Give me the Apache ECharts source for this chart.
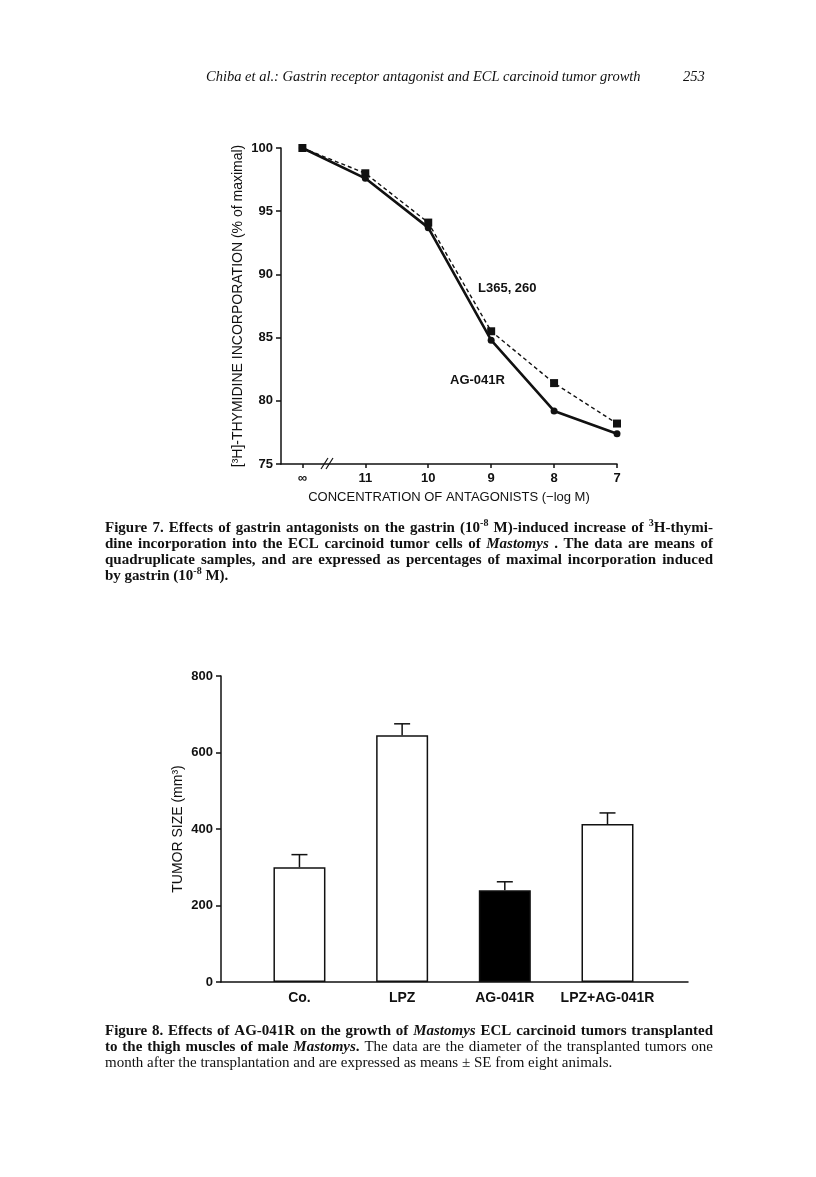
<!DOCTYPE html>
<html>
<head>
<meta charset="utf-8">
<script src="https://cdn.jsdelivr.net/npm/echarts@6/dist/echarts.min.js"></script>
<style>
html,body{margin:0;padding:0;background:#fff;}
#main{width:816px;height:1177px;}
</style>
</head>
<body>
<div id="main"></div>
<script>
// ---------- Figure 7 data ----------
const fig7Categories = ['\u221E', '11', '10', '9', '8', '7'];
const fig7Positions = [0, 1, 2, 3, 4, 5];
const ag041r = [100, 97.6, 93.7, 84.8, 79.2, 77.4];
const l365260 = [100, 98.0, 94.1, 85.5, 81.4, 78.2];
const fig7YTicks = [75, 80, 85, 90, 95, 100];

// ---------- Figure 8 data ----------
const fig8Categories = ['Co.', 'LPZ', 'AG-041R', 'LPZ+AG-041R'];
const fig8Positions = [0, 1, 2, 3];
const tumorSize = [300, 645, 240, 413];
const tumorSE = [33, 30, 22, 29];
const fig8YTicks = [0, 200, 400, 600, 800];

const SANS = '"Liberation Sans", Arial, sans-serif';
const SERIF = '"Liberation Serif", "Times New Roman", serif';
const INK = '#111';

const chart = echarts.init(document.getElementById('main'), null, {renderer: 'canvas'});

// ---------- justified caption helper ----------
const FONTS = {
  b: 'bold 15px ' + SERIF,
  bi: 'italic bold 15px ' + SERIF,
  r: '15px ' + SERIF,
  i: 'italic 15px ' + SERIF,
  sup: 'bold 10px ' + SERIF
};
const mctx = document.createElement('canvas').getContext('2d');
function measure(t, f) { mctx.font = FONTS[f]; return mctx.measureText(t).width; }
function captionLine(pieces, x0, width, y, justify) {
  const words = [];
  let cur = [];
  pieces.forEach(([txt, f]) => {
    const parts = txt.split(' ');
    parts.forEach((p, idx) => {
      if (idx > 0) { if (cur.length) words.push(cur); cur = []; }
      if (p.length) cur.push([p, f]);
    });
  });
  if (cur.length) words.push(cur);
  const ww = words.map(w => w.reduce((s, [t, f]) => s + measure(t, f), 0));
  const total = ww.reduce((a, b) => a + b, 0);
  const gap = justify && words.length > 1 ? (width - total) / (words.length - 1) : measure(' ', 'b');
  const els = [];
  let x = x0;
  words.forEach((w, wi) => {
    let px = x;
    w.forEach(([t, f]) => {
      els.push({
        type: 'text', x: px, y: f === 'sup' ? y - 5 : y,
        style: {text: t, font: FONTS[f], fill: INK, textVerticalAlign: 'middle', textAlign: 'left'}
      });
      px += measure(t, f);
    });
    x += ww[wi] + gap;
  });
  return els;
}

const graphics = [];
// header
graphics.push({type: 'text', x: 206, y: 77, style: {text: 'Chiba et al.: Gastrin receptor antagonist and ECL carcinoid tumor growth', font: 'italic 14.5px ' + SERIF, fill: INK, textVerticalAlign: 'middle'}});
graphics.push({type: 'text', x: 683, y: 77, style: {text: '253', font: 'italic 14.5px ' + SERIF, fill: INK, textVerticalAlign: 'middle'}});

// Figure 7 caption
const CX = 105, CW = 608;
graphics.push(...captionLine([['Figure 7. Effects of gastrin antagonists on the gastrin (10', 'b'], ['-8', 'sup'], [' M)-induced increase of ', 'b'], ['3', 'sup'], ['H-thymi-', 'b']], CX, CW, 528, true));
graphics.push(...captionLine([['dine incorporation into the ECL carcinoid tumor cells of ', 'b'], ['Mastomys', 'bi'], [' . The data are means of', 'b']], CX, CW, 544, true));
graphics.push(...captionLine([['quadruplicate samples, and are expressed as percentages of maximal incorporation induced', 'b']], CX, CW, 560, true));
graphics.push(...captionLine([['by gastrin (10', 'b'], ['-8', 'sup'], [' M).', 'b']], CX, CW, 576, false));

// Figure 8 caption
graphics.push(...captionLine([['Figure 8. Effects of AG-041R on the growth of ', 'b'], ['Mastomys', 'bi'], [' ECL carcinoid tumors transplanted', 'b']], CX, CW, 1031, true));
graphics.push(...captionLine([['to the thigh muscles of male ', 'b'], ['Mastomys', 'bi'], ['.', 'b'], [' The data are the diameter of the transplanted tumors one', 'r']], CX, CW, 1047, true));
graphics.push(...captionLine([['month after the transplantation and are expressed as means \u00B1 SE from eight animals.', 'r']], CX, CW, 1063, false));

// Figure 7 annotations
graphics.push({type: 'text', x: 478, y: 288, style: {text: 'L365, 260', font: 'bold 13px ' + SANS, fill: INK, textVerticalAlign: 'middle'}});
graphics.push({type: 'text', x: 450, y: 380, style: {text: 'AG-041R', font: 'bold 13px ' + SANS, fill: INK, textVerticalAlign: 'middle'}});
// axis break mark
graphics.push({type: 'line', shape: {x1: 321, y1: 469, x2: 328, y2: 458}, style: {stroke: INK, lineWidth: 1.2}});
graphics.push({type: 'line', shape: {x1: 326, y1: 469, x2: 333, y2: 458}, style: {stroke: INK, lineWidth: 1.2}});

const option = {
  backgroundColor: '#fff',
  animation: false,
  textStyle: {fontFamily: SANS, color: INK},
  grid: [
    {left: 281, top: 148, width: 336, height: 316, containLabel: false},
    {left: 221, top: 676, width: 467, height: 306, containLabel: false}
  ],
  xAxis: [
    {
      gridIndex: 0, type: 'value', min: -0.34, max: 5,
      axisLine: {onZero: false, lineStyle: {color: INK, width: 1.5}},
      axisTick: {show: true, length: 4, customValues: fig7Positions, lineStyle: {color: INK, width: 1.5}},
      axisLabel: {customValues: fig7Positions, formatter: v => fig7Categories[Math.round(v)], color: INK, fontSize: 13, fontWeight: 'bold', margin: 8, fontFamily: SANS},
      splitLine: {show: false},
      name: 'CONCENTRATION OF ANTAGONISTS (\u2212log M)', nameLocation: 'middle', nameGap: 27,
      nameTextStyle: {fontSize: 13, color: INK, fontFamily: SANS}
    },
    {
      gridIndex: 1, type: 'value', min: -0.764, max: 3.784,
      axisLine: {onZero: false, lineStyle: {color: INK, width: 1.5}},
      axisTick: {show: false},
      axisLabel: {customValues: fig8Positions, formatter: v => fig8Categories[Math.round(v)], color: INK, fontSize: 14, fontWeight: 'bold', margin: 9, fontFamily: SANS},
      splitLine: {show: false}
    }
  ],
  yAxis: [
    {
      gridIndex: 0, type: 'value', min: 75, max: 100, interval: 5,
      axisLine: {show: true, onZero: false, lineStyle: {color: INK, width: 1.5}},
      axisTick: {show: true, length: 5, lineStyle: {color: INK, width: 1.5}},
      axisLabel: {color: INK, fontSize: 13, fontWeight: 'bold', margin: 8, fontFamily: SANS},
      splitLine: {show: false},
      name: '[\u00B3H]-THYMIDINE INCORPORATION (% of maximal)', nameLocation: 'middle', nameGap: 36,
      nameTextStyle: {fontSize: 14, color: INK, fontFamily: SANS}
    },
    {
      gridIndex: 1, type: 'value', min: 0, max: 800, interval: 200,
      axisLine: {show: true, onZero: false, lineStyle: {color: INK, width: 1.5}},
      axisTick: {show: true, length: 5, lineStyle: {color: INK, width: 1.5}},
      axisLabel: {color: INK, fontSize: 13, fontWeight: 'bold', margin: 8, fontFamily: SANS},
      splitLine: {show: false},
      name: 'TUMOR SIZE (mm\u00B3)', nameLocation: 'middle', nameGap: 36, nameMoveOverlap: false,
      nameTextStyle: {fontSize: 14, color: INK, fontFamily: SANS}
    }
  ],
  series: [
    {
      name: 'L365, 260', type: 'line', xAxisIndex: 0, yAxisIndex: 0,
      data: fig7Positions.map((p, i) => [p, l365260[i]]),
      symbol: 'rect', symbolSize: 8,
      lineStyle: {color: INK, width: 1.4, type: [4, 3]},
      itemStyle: {color: INK}, z: 3
    },
    {
      name: 'AG-041R', type: 'line', xAxisIndex: 0, yAxisIndex: 0,
      data: fig7Positions.map((p, i) => [p, ag041r[i]]),
      symbol: 'circle', symbolSize: 7,
      lineStyle: {color: INK, width: 2.6},
      itemStyle: {color: INK}, z: 4
    },
    {
      name: 'Tumor size', type: 'bar', xAxisIndex: 1, yAxisIndex: 1,
      barWidth: 52,
      data: fig8Positions.map((p, i) => ({
        value: [p, tumorSize[i]],
        itemStyle: {color: fig8Categories[i] === 'AG-041R' ? '#000' : '#fff', borderColor: INK, borderWidth: 1.5}
      }))
    },
    {
      name: 'SE', type: 'custom', xAxisIndex: 1, yAxisIndex: 1,
      data: fig8Positions.map((p, i) => [p, tumorSize[i], tumorSE[i]]),
      renderItem: function (params, api) {
        const x = api.value(0), y = api.value(1), e = api.value(2);
        const base = api.coord([x, y]);
        const top = api.coord([x, y + e]);
        return {
          type: 'group',
          children: [
            {type: 'line', shape: {x1: base[0], y1: base[1], x2: top[0], y2: top[1]}, style: {stroke: INK, lineWidth: 1.5}},
            {type: 'line', shape: {x1: top[0] - 8, y1: top[1], x2: top[0] + 8, y2: top[1]}, style: {stroke: INK, lineWidth: 1.5}}
          ]
        };
      },
      z: 5
    }
  ],
  graphic: graphics
};
chart.setOption(option);
</script>
</body>
</html>
